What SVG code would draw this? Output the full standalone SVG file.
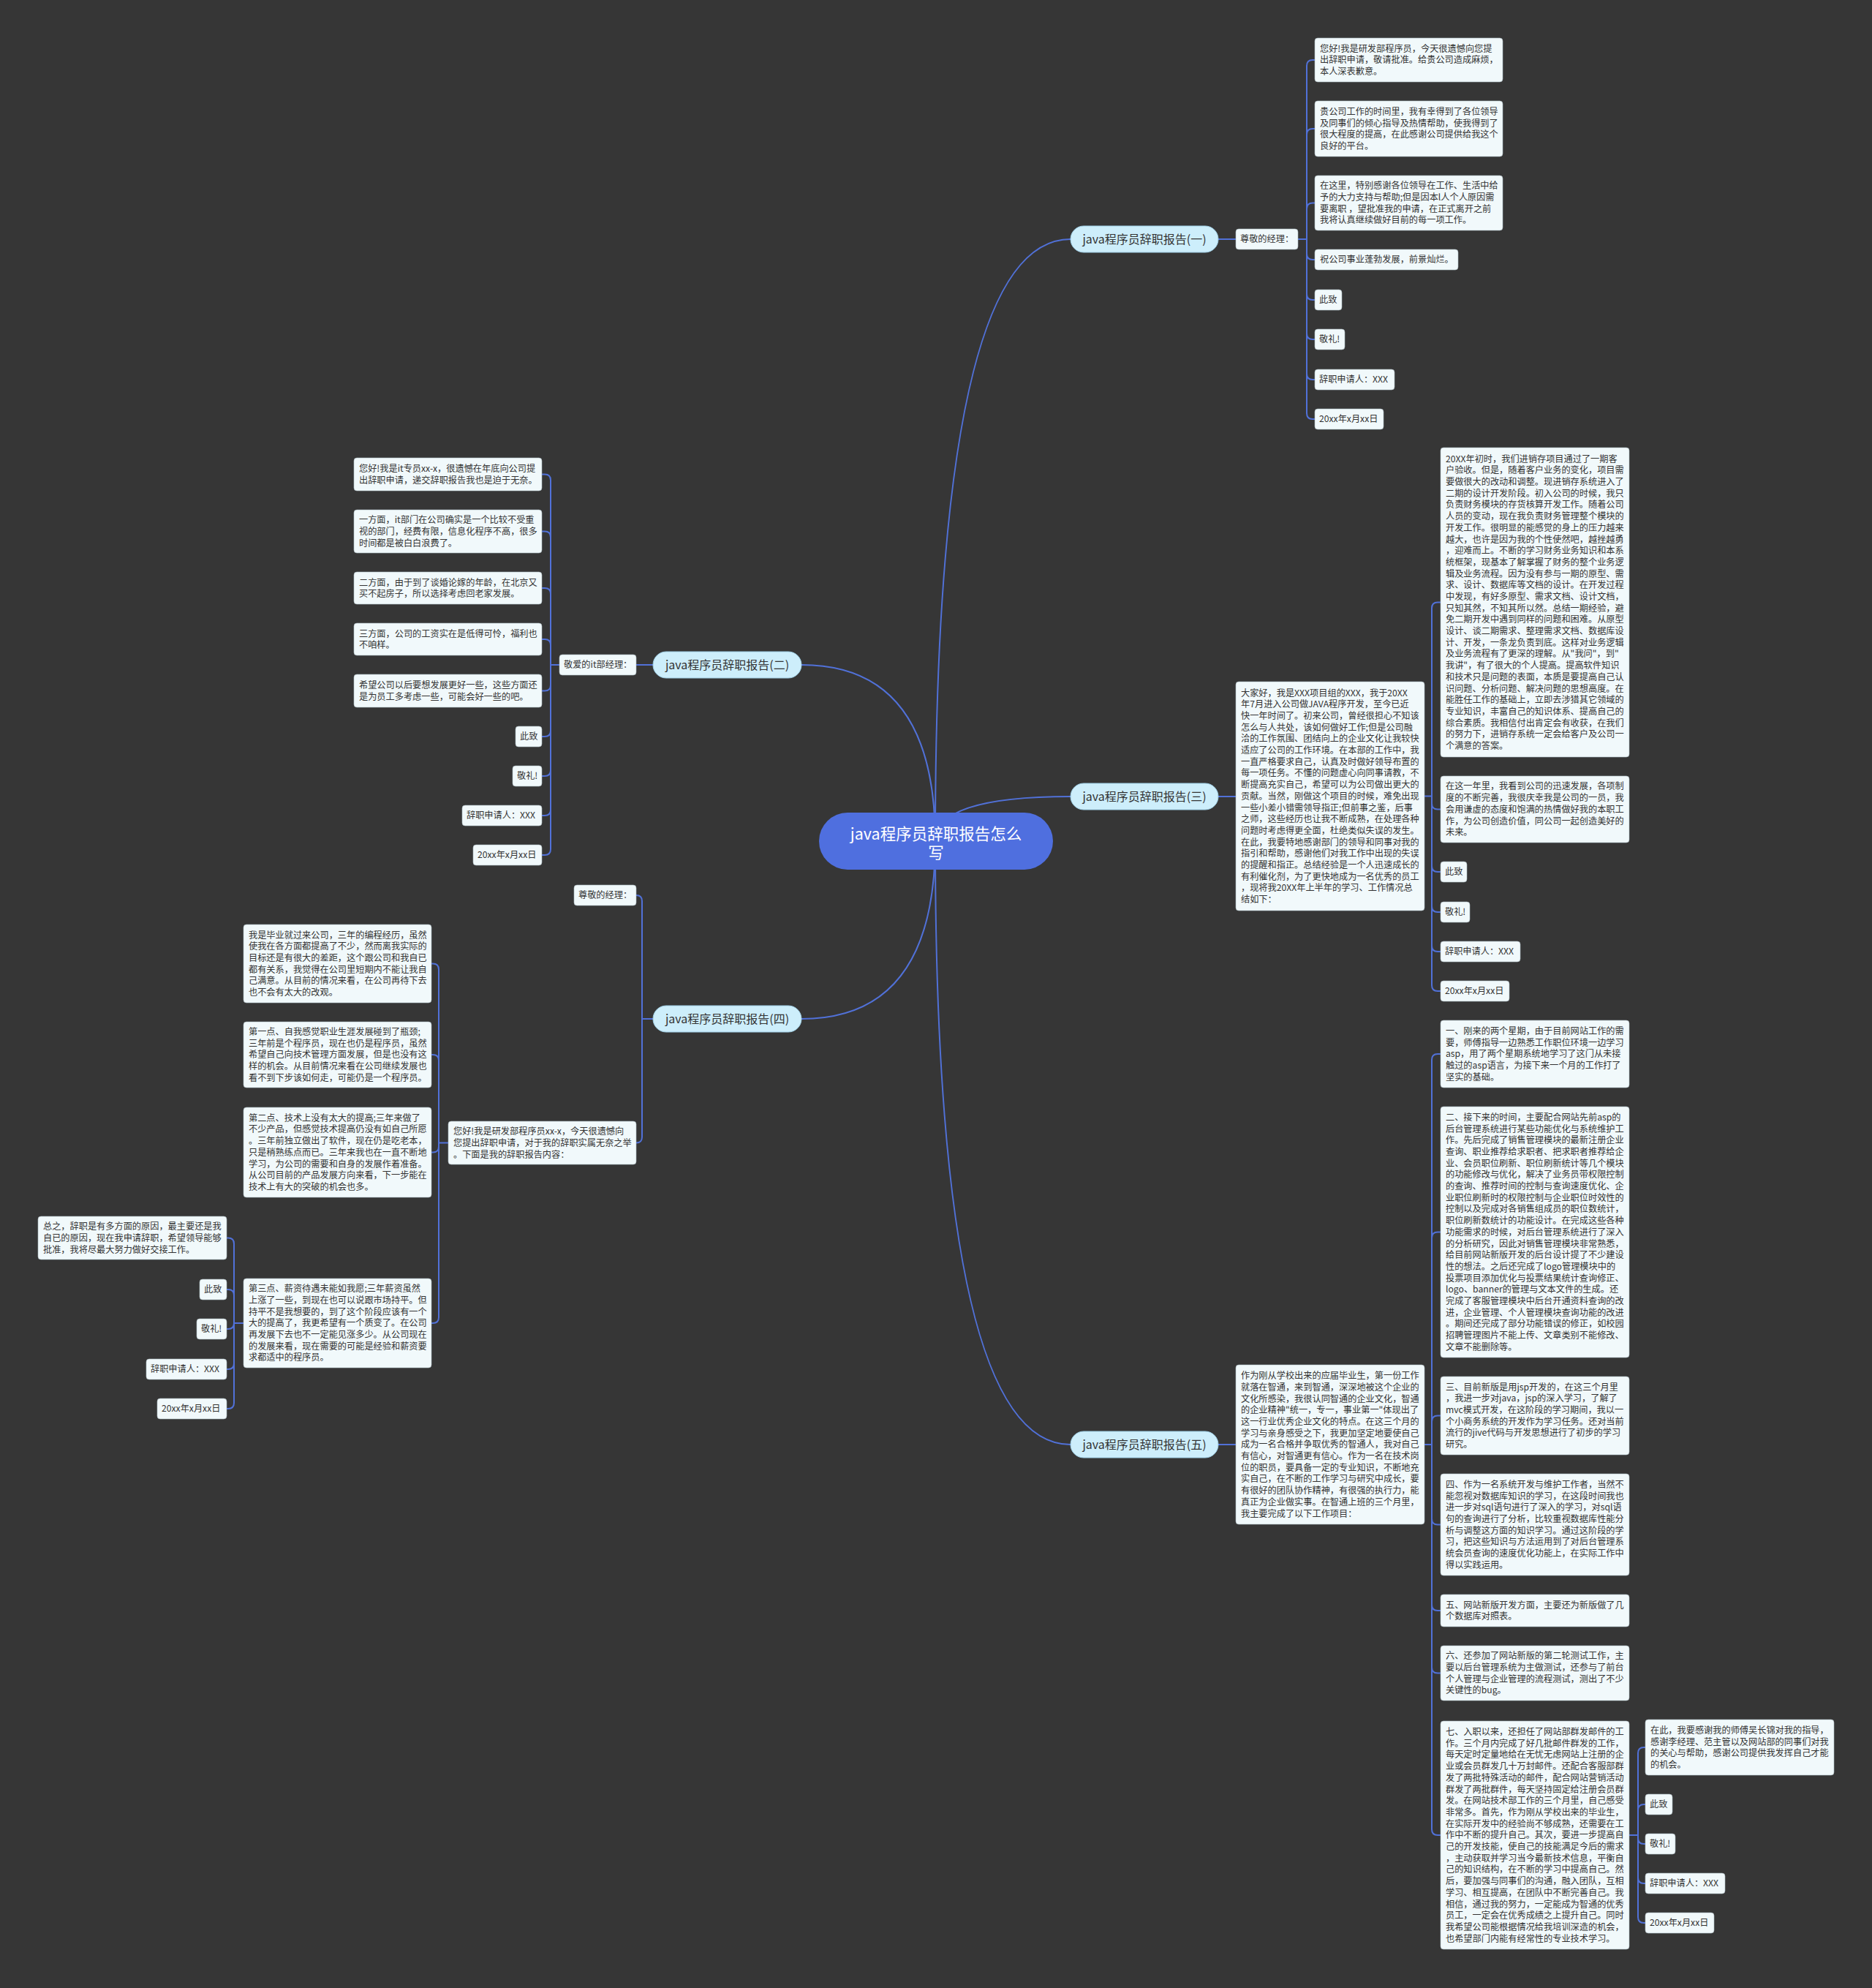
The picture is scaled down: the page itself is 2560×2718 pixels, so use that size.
<svg xmlns="http://www.w3.org/2000/svg" width="2560" height="2718" viewBox="0 0 2560 2718">
<style>
.box{fill:#f1f9fb;stroke:#a9b9c0;stroke-width:0.6}
.pill{fill:#cdeefb;stroke:#9fcfe6;stroke-width:1}
.t{font-family:"Noto Sans CJK SC","Microsoft YaHei",sans-serif;font-size:12.2px;fill:#333}
.pt{font-family:"Noto Sans CJK SC","Microsoft YaHei",sans-serif;font-size:16px;fill:#333;text-anchor:middle}
.ct{font-family:"Noto Sans CJK SC","Microsoft YaHei",sans-serif;font-size:21.5px;fill:#fff;text-anchor:middle}
.ln{fill:none;stroke:#5171d8;stroke-width:2;stroke-linecap:round}
</style>
<rect x="0" y="0" width="2560" height="2718" fill="#363636"/>

<g id="connectors" class="ln">
<path d="M1279,1150 Q1279,327 1464,327"/>
<path d="M1279,1150 Q1279,909 1096,909"/>
<path d="M1279,1150 Q1279,1089 1464,1089"/>
<path d="M1279,1150 Q1279,1393 1096,1393"/>
<path d="M1279,1150 Q1279,1975 1464,1975"/>
<!-- branch 1 -->
<path d="M1666,327 H1690"/>
<path d="M1775,327 H1787"/>
<path d="M1787,327 V90 Q1787,82 1795,82 H1798"/>
<path d="M1787,327 V184 Q1787,176 1795,176 H1798"/>
<path d="M1787,327 V285.5 Q1787,277.5 1795,277.5 H1798"/>
<path d="M1787,327 V347 Q1787,355 1795,355 H1798"/>
<path d="M1787,327 V402 Q1787,410 1795,410 H1798"/>
<path d="M1787,327 V456 Q1787,464 1795,464 H1798"/>
<path d="M1787,327 V511 Q1787,519 1795,519 H1798"/>
<path d="M1787,327 V565 Q1787,573 1795,573 H1798"/>
<!-- branch 2 -->
<path d="M893,909 H870"/>
<path d="M765,909 H753"/>
<path d="M753,909 V656.5 Q753,648.5 745,648.5 H741"/>
<path d="M753,909 V734.5 Q753,726.5 745,726.5 H741"/>
<path d="M753,909 V812 Q753,804 745,804 H741"/>
<path d="M753,909 V882 Q753,874 745,874 H741"/>
<path d="M753,909 V936.5 Q753,944.5 745,944.5 H741"/>
<path d="M753,909 V999 Q753,1007 745,1007 H741"/>
<path d="M753,909 V1053 Q753,1061 745,1061 H741"/>
<path d="M753,909 V1107 Q753,1115 745,1115 H741"/>
<path d="M753,909 V1161 Q753,1169 745,1169 H741"/>
<!-- branch 3 -->
<path d="M1666,1089 H1690"/>
<path d="M1948,1088.5 H1958"/>
<path d="M1958,1088.5 V831.5 Q1958,823.5 1966,823.5 H1970"/>
<path d="M1958,1088.5 V1098.5 Q1958,1106.5 1966,1106.5 H1970"/>
<path d="M1958,1088.5 V1184 Q1958,1192 1966,1192 H1970"/>
<path d="M1958,1088.5 V1239 Q1958,1247 1966,1247 H1970"/>
<path d="M1958,1088.5 V1293 Q1958,1301 1966,1301 H1970"/>
<path d="M1958,1088.5 V1347 Q1958,1355 1966,1355 H1970"/>
<!-- branch 4 -->
<path d="M893,1393 H878"/>
<path d="M878,1393 V1232 Q878,1224 870,1224"/>
<path d="M878,1393 V1554.5 Q878,1562.5 870,1562.5"/>
<path d="M613,1562.5 H600"/>
<path d="M600,1562.5 V1325.5 Q600,1317.5 592,1317.5 H590"/>
<path d="M600,1562.5 V1450 Q600,1442 592,1442 H590"/>
<path d="M600,1562.5 V1567.5 Q600,1575.5 592,1575.5 H590"/>
<path d="M600,1562.5 V1801 Q600,1809 592,1809 H590"/>
<path d="M333,1809 H320"/>
<path d="M320,1809 V1700.5 Q320,1692.5 312,1692.5 H310"/>
<path d="M320,1809 V1771 Q320,1763 312,1763 H310"/>
<path d="M320,1809 V1809 Q320,1817 312,1817 H310"/>
<path d="M320,1809 V1864 Q320,1872 312,1872 H310"/>
<path d="M320,1809 V1918 Q320,1926 312,1926 H310"/>
<!-- branch 5 -->
<path d="M1666,1975 H1690"/>
<path d="M1948,1975 H1958"/>
<path d="M1958,1975 V1449 Q1958,1441 1966,1441 H1970"/>
<path d="M1958,1975 V1692.5 Q1958,1684.5 1966,1684.5 H1970"/>
<path d="M1958,1975 V1943.5 Q1958,1935.5 1966,1935.5 H1970"/>
<path d="M1958,1975 V2076.5 Q1958,2084.5 1966,2084.5 H1970"/>
<path d="M1958,1975 V2194 Q1958,2202 1966,2202 H1970"/>
<path d="M1958,1975 V2279.5 Q1958,2287.5 1966,2287.5 H1970"/>
<path d="M1958,1975 V2501 Q1958,2509 1966,2509 H1970"/>
<path d="M2228,2509 H2240"/>
<path d="M2240,2509 V2397 Q2240,2389 2248,2389 H2250"/>
<path d="M2240,2509 V2475 Q2240,2467 2248,2467 H2250"/>
<path d="M2240,2509 V2513 Q2240,2521 2248,2521 H2250"/>
<path d="M2240,2509 V2567 Q2240,2575 2248,2575 H2250"/>
<path d="M2240,2509 V2621 Q2240,2629 2248,2629 H2250"/>
</g>

<g id="root">
<rect x="1120" y="1111" width="320" height="78" rx="39" fill="#4f6fdf"/>
<text class="ct" x="1280" y="1147.5"><tspan x="1280">java程序员辞职报告怎么</tspan><tspan x="1280" dy="26">写</tspan></text>
</g>

<!-- ===== Branch 1 ===== -->
<g id="b1">
<rect class="pill" x="1464" y="309" width="202" height="36" rx="18"/>
<text class="pt" x="1565" y="332.6">java程序员辞职报告(一)</text>
</g>
<g id="b1-greet"><rect class="box" x="1690" y="313" width="85" height="28" rx="4"/><text class="t" x="1696" y="331.3">尊敬的经理：</text></g>
<g id="b1-n1"><rect class="box" x="1798" y="52" width="257" height="60" rx="4"/><text class="t" y="70.6"><tspan x="1805">您好!我是研发部程序员，今天很遗憾向您提</tspan><tspan x="1805" dy="15.7">出辞职申请，敬请批准。给贵公司造成麻烦，</tspan><tspan x="1805" dy="15.7">本人深表歉意。</tspan></text></g>
<g id="b1-n2"><rect class="box" x="1798" y="138" width="257" height="76" rx="4"/><text class="t" y="156.8"><tspan x="1805">贵公司工作的时间里，我有幸得到了各位领导</tspan><tspan x="1805" dy="15.7">及同事们的倾心指导及热情帮助，使我得到了</tspan><tspan x="1805" dy="15.7">很大程度的提高，在此感谢公司提供给我这个</tspan><tspan x="1805" dy="15.7">良好的平台。</tspan></text></g>
<g id="b1-n3"><rect class="box" x="1798" y="240" width="257" height="75" rx="4"/><text class="t" y="258.3"><tspan x="1805">在这里，特别感谢各位领导在工作、生活中给</tspan><tspan x="1805" dy="15.7">予的大力支持与帮助;但是因本l人个人原因需</tspan><tspan x="1805" dy="15.7">要离职 ，望批准我的申请，在正式离开之前</tspan><tspan x="1805" dy="15.7">我将认真继续做好目前的每一项工作。</tspan></text></g>
<g id="b1-n4"><rect class="box" x="1798" y="341" width="196" height="28" rx="4"/><text class="t" x="1805" y="359.3">祝公司事业蓬勃发展，前景灿烂。</text></g>
<g id="b1-n5"><rect class="box" x="1798" y="396" width="37" height="28" rx="4"/><text class="t" x="1804" y="414.3">此致</text></g>
<g id="b1-n6"><rect class="box" x="1798" y="450" width="41" height="28" rx="4"/><text class="t" x="1804" y="468.3">敬礼!</text></g>
<g id="b1-n7"><rect class="box" x="1798" y="505" width="109" height="28" rx="4"/><text class="t" x="1804" y="523.3">辞职申请人：XXX</text></g>
<g id="b1-n8"><rect class="box" x="1798" y="559" width="94" height="28" rx="4"/><text class="t" x="1804" y="577.3">20xx年x月xx日</text></g>

<!-- ===== Branch 2 ===== -->
<g id="b2">
<rect class="pill" x="893" y="891" width="203" height="36" rx="18"/>
<text class="pt" x="994.5" y="914.6">java程序员辞职报告(二)</text>
</g>
<g id="b2-greet"><rect class="box" x="765" y="895" width="105" height="28" rx="4"/><text class="t" x="771" y="913.3">敬爱的it部经理：</text></g>
<g id="b2-n1"><rect class="box" x="484" y="626" width="257" height="45" rx="4"/><text class="t" y="645"><tspan x="491">您好!我是it专员xx-x，很遗憾在年底向公司提</tspan><tspan x="491" dy="15.7">出辞职申请，递交辞职报告我也是迫于无奈。</tspan></text></g>
<g id="b2-n2"><rect class="box" x="484" y="697" width="257" height="59" rx="4"/><text class="t" y="715.1"><tspan x="491">一方面，it部门在公司确实是一个比较不受重</tspan><tspan x="491" dy="15.7">视的部门，经费有限，信息化程序不高，很多</tspan><tspan x="491" dy="15.7">时间都是被白白浪费了。</tspan></text></g>
<g id="b2-n3"><rect class="box" x="484" y="782" width="257" height="44" rx="4"/><text class="t" y="800.5"><tspan x="491">二方面，由于到了谈婚论嫁的年龄，在北京又</tspan><tspan x="491" dy="15.7">买不起房子，所以选择考虑回老家发展。</tspan></text></g>
<g id="b2-n4"><rect class="box" x="484" y="852" width="257" height="44" rx="4"/><text class="t" y="870.5"><tspan x="491">三方面，公司的工资实在是低得可怜，福利也</tspan><tspan x="491" dy="15.7">不咱样。</tspan></text></g>
<g id="b2-n5"><rect class="box" x="484" y="922" width="257" height="45" rx="4"/><text class="t" y="941"><tspan x="491">希望公司以后要想发展更好一些，这些方面还</tspan><tspan x="491" dy="15.7">是为员工多考虑一些，可能会好一些的吧。</tspan></text></g>
<g id="b2-n6"><rect class="box" x="705" y="993" width="36" height="28" rx="4"/><text class="t" x="711" y="1011.3">此致</text></g>
<g id="b2-n7"><rect class="box" x="701" y="1047" width="40" height="28" rx="4"/><text class="t" x="707" y="1065.3">敬礼!</text></g>
<g id="b2-n8"><rect class="box" x="632" y="1101" width="109" height="28" rx="4"/><text class="t" x="638" y="1119.3">辞职申请人：XXX</text></g>
<g id="b2-n9"><rect class="box" x="647" y="1155" width="94" height="28" rx="4"/><text class="t" x="653" y="1173.3">20xx年x月xx日</text></g>

<!-- ===== Branch 3 ===== -->
<g id="b3">
<rect class="pill" x="1464" y="1071" width="202" height="36" rx="18"/>
<text class="pt" x="1565" y="1094.6">java程序员辞职报告(三)</text>
</g>
<g id="b3-intro"><rect class="box" x="1690" y="932" width="258" height="313" rx="4"/><text class="t" y="951.5"><tspan x="1697">大家好，我是XXX项目组的XXX，我于20XX</tspan><tspan x="1697" dy="15.7">年7月进入公司做JAVA程序开发，至今已近</tspan><tspan x="1697" dy="15.7">快一年时间了。初来公司，曾经很担心不知该</tspan><tspan x="1697" dy="15.7">怎么与人共处，该如何做好工作;但是公司融</tspan><tspan x="1697" dy="15.7">洽的工作氛围、团结向上的企业文化让我较快</tspan><tspan x="1697" dy="15.7">适应了公司的工作环境。在本部的工作中，我</tspan><tspan x="1697" dy="15.7">一直严格要求自己，认真及时做好领导布置的</tspan><tspan x="1697" dy="15.7">每一项任务。不懂的问题虚心向同事请教，不</tspan><tspan x="1697" dy="15.7">断提高充实自己，希望可以为公司做出更大的</tspan><tspan x="1697" dy="15.7">贡献。当然，刚做这个项目的时候，难免出现</tspan><tspan x="1697" dy="15.7">一些小差小错需领导指正;但前事之鉴，后事</tspan><tspan x="1697" dy="15.7">之师，这些经历也让我不断成熟，在处理各种</tspan><tspan x="1697" dy="15.7">问题时考虑得更全面，杜绝类似失误的发生。</tspan><tspan x="1697" dy="15.7">在此，我要特地感谢部门的领导和同事对我的</tspan><tspan x="1697" dy="15.7">指引和帮助，感谢他们对我工作中出现的失误</tspan><tspan x="1697" dy="15.7">的提醒和指正。总结经验是一个人迅速成长的</tspan><tspan x="1697" dy="15.7">有利催化剂，为了更快地成为一名优秀的员工</tspan><tspan x="1697" dy="15.7">，现将我20XX年上半年的学习、工作情况总</tspan><tspan x="1697" dy="15.7">结如下：</tspan></text></g>
<g id="b3-n1"><rect class="box" x="1970" y="612" width="258" height="423" rx="4"/><text class="t" y="631.6"><tspan x="1977">20XX年初时，我们进销存项目通过了一期客</tspan><tspan x="1977" dy="15.7">户验收。但是，随着客户业务的变化，项目需</tspan><tspan x="1977" dy="15.7">要做很大的改动和调整。现进销存系统进入了</tspan><tspan x="1977" dy="15.7">二期的设计开发阶段。初入公司的时候，我只</tspan><tspan x="1977" dy="15.7">负责财务模块的存货核算开发工作。随着公司</tspan><tspan x="1977" dy="15.7">人员的变动，现在我负责财务管理整个模块的</tspan><tspan x="1977" dy="15.7">开发工作。很明显的能感觉的身上的压力越来</tspan><tspan x="1977" dy="15.7">越大，也许是因为我的个性使然吧，越挫越勇</tspan><tspan x="1977" dy="15.7">，迎难而上。不断的学习财务业务知识和本系</tspan><tspan x="1977" dy="15.7">统框架，现基本了解掌握了财务的整个业务逻</tspan><tspan x="1977" dy="15.7">辑及业务流程。因为没有参与一期的原型、需</tspan><tspan x="1977" dy="15.7">求、设计、数据库等文档的设计。在开发过程</tspan><tspan x="1977" dy="15.7">中发现，有好多原型、需求文档、设计文档，</tspan><tspan x="1977" dy="15.7">只知其然，不知其所以然。总结一期经验，避</tspan><tspan x="1977" dy="15.7">免二期开发中遇到同样的问题和困难。从原型</tspan><tspan x="1977" dy="15.7">设计、谈二期需求、整理需求文档、数据库设</tspan><tspan x="1977" dy="15.7">计、开发，一条龙负责到底。这样对业务逻辑</tspan><tspan x="1977" dy="15.7">及业务流程有了更深的理解。从"我问"，到"</tspan><tspan x="1977" dy="15.7">我讲"，有了很大的个人提高。提高软件知识</tspan><tspan x="1977" dy="15.7">和技术只是问题的表面，本质是要提高自己认</tspan><tspan x="1977" dy="15.7">识问题、分析问题、解决问题的思想高度。在</tspan><tspan x="1977" dy="15.7">能胜任工作的基础上，立即去涉猎其它领域的</tspan><tspan x="1977" dy="15.7">专业知识，丰富自己的知识体系、提高自己的</tspan><tspan x="1977" dy="15.7">综合素质。我相信付出肯定会有收获，在我们</tspan><tspan x="1977" dy="15.7">的努力下，进销存系统一定会给客户及公司一</tspan><tspan x="1977" dy="15.7">个满意的答案。</tspan></text></g>
<g id="b3-n2"><rect class="box" x="1970" y="1061" width="258" height="91" rx="4"/><text class="t" y="1079.4"><tspan x="1977">在这一年里，我看到公司的迅速发展，各项制</tspan><tspan x="1977" dy="15.7">度的不断完善，我很庆幸我是公司的一员，我</tspan><tspan x="1977" dy="15.7">会用谦虚的态度和饱满的热情做好我的本职工</tspan><tspan x="1977" dy="15.7">作，为公司创造价值，同公司一起创造美好的</tspan><tspan x="1977" dy="15.7">未来。</tspan></text></g>
<g id="b3-n3"><rect class="box" x="1970" y="1178" width="36" height="28" rx="4"/><text class="t" x="1976" y="1196.3">此致</text></g>
<g id="b3-n4"><rect class="box" x="1970" y="1233" width="40" height="28" rx="4"/><text class="t" x="1976" y="1251.3">敬礼!</text></g>
<g id="b3-n5"><rect class="box" x="1970" y="1287" width="109" height="28" rx="4"/><text class="t" x="1976" y="1305.3">辞职申请人：XXX</text></g>
<g id="b3-n6"><rect class="box" x="1970" y="1341" width="94" height="28" rx="4"/><text class="t" x="1976" y="1359.3">20xx年x月xx日</text></g>

<!-- ===== Branch 4 ===== -->
<g id="b4">
<rect class="pill" x="893" y="1375" width="203" height="36" rx="18"/>
<text class="pt" x="994.5" y="1398.6">java程序员辞职报告(四)</text>
</g>
<g id="b4-greet"><rect class="box" x="785" y="1210" width="85" height="28" rx="4"/><text class="t" x="791" y="1228.3">尊敬的经理：</text></g>
<g id="b4-hello"><rect class="box" x="613" y="1533" width="257" height="59" rx="4"/><text class="t" y="1551.1"><tspan x="620">您好!我是研发部程序员xx-x，今天很遗憾向</tspan><tspan x="620" dy="15.7">您提出辞职申请，对于我的辞职实属无奈之举</tspan><tspan x="620" dy="15.7">。下面是我的辞职报告内容：</tspan></text></g>
<g id="b4-n1"><rect class="box" x="333" y="1264" width="257" height="107" rx="4"/><text class="t" y="1282.6"><tspan x="340">我是毕业就过来公司，三年的编程经历，虽然</tspan><tspan x="340" dy="15.7">使我在各方面都提高了不少，然而离我实际的</tspan><tspan x="340" dy="15.7">目标还是有很大的差距，这个跟公司和我自已</tspan><tspan x="340" dy="15.7">都有关系，我觉得在公司里短期内不能让我自</tspan><tspan x="340" dy="15.7">己满意。从目前的情况来看，在公司再待下去</tspan><tspan x="340" dy="15.7">也不会有太大的改观。</tspan></text></g>
<g id="b4-n2"><rect class="box" x="333" y="1397" width="257" height="90" rx="4"/><text class="t" y="1414.9"><tspan x="340">第一点、自我感觉职业生涯发展碰到了瓶颈;</tspan><tspan x="340" dy="15.7">三年前是个程序员，现在也仍是程序员，虽然</tspan><tspan x="340" dy="15.7">希望自己向技术管理方面发展，但是也没有这</tspan><tspan x="340" dy="15.7">样的机会。从目前情况来看在公司继续发展也</tspan><tspan x="340" dy="15.7">看不到下步该如何走，可能仍是一个程序员。</tspan></text></g>
<g id="b4-n3"><rect class="box" x="333" y="1514" width="257" height="123" rx="4"/><text class="t" y="1532.7"><tspan x="340">第二点、技术上没有太大的提高;三年来做了</tspan><tspan x="340" dy="15.7">不少产品，但感觉技术提高仍没有如自己所愿</tspan><tspan x="340" dy="15.7">。三年前独立做出了软件，现在仍是吃老本，</tspan><tspan x="340" dy="15.7">只是稍熟练点而已。三年来我也在一直不断地</tspan><tspan x="340" dy="15.7">学习，为公司的需要和自身的发展作着准备。</tspan><tspan x="340" dy="15.7">从公司目前的产品发展方向来看，下一步能在</tspan><tspan x="340" dy="15.7">技术上有大的突破的机会也多。</tspan></text></g>
<g id="b4-n4"><rect class="box" x="333" y="1748" width="257" height="122" rx="4"/><text class="t" y="1766.2"><tspan x="340">第三点、薪资待遇未能如我愿;三年薪资虽然</tspan><tspan x="340" dy="15.7">上涨了一些，到现在也可以说跟市场持平。但</tspan><tspan x="340" dy="15.7">持平不是我想要的，到了这个阶段应该有一个</tspan><tspan x="340" dy="15.7">大的提高了，我更希望有一个质变了。在公司</tspan><tspan x="340" dy="15.7">再发展下去也不一定能见涨多少。从公司现在</tspan><tspan x="340" dy="15.7">的发展来看，现在需要的可能是经验和薪资要</tspan><tspan x="340" dy="15.7">求都适中的程序员。</tspan></text></g>
<g id="b4-n5"><rect class="box" x="52" y="1663" width="258" height="59" rx="4"/><text class="t" y="1681.1"><tspan x="59">总之，辞职是有多方面的原因，最主要还是我</tspan><tspan x="59" dy="15.7">自已的原因，现在我申请辞职，希望领导能够</tspan><tspan x="59" dy="15.7">批准，我将尽最大努力做好交接工作。</tspan></text></g>
<g id="b4-n6"><rect class="box" x="273" y="1749" width="37" height="28" rx="4"/><text class="t" x="279" y="1767.3">此致</text></g>
<g id="b4-n7"><rect class="box" x="269" y="1803" width="41" height="28" rx="4"/><text class="t" x="275" y="1821.3">敬礼!</text></g>
<g id="b4-n8"><rect class="box" x="200" y="1858" width="110" height="28" rx="4"/><text class="t" x="206" y="1876.3">辞职申请人：XXX</text></g>
<g id="b4-n9"><rect class="box" x="215" y="1912" width="95" height="28" rx="4"/><text class="t" x="221" y="1930.3">20xx年x月xx日</text></g>

<!-- ===== Branch 5 ===== -->
<g id="b5">
<rect class="pill" x="1464" y="1957" width="202" height="36" rx="18"/>
<text class="pt" x="1565" y="1980.6">java程序员辞职报告(五)</text>
</g>
<g id="b5-intro"><rect class="box" x="1690" y="1866" width="258" height="218" rx="4"/><text class="t" y="1885.1"><tspan x="1697">作为刚从学校出来的应届毕业生，第一份工作</tspan><tspan x="1697" dy="15.7">就落在智通，来到智通，深深地被这个企业的</tspan><tspan x="1697" dy="15.7">文化所感染，我很认同智通的企业文化，智通</tspan><tspan x="1697" dy="15.7">的企业精神"统一，专一，事业第一"体现出了</tspan><tspan x="1697" dy="15.7">这一行业优秀企业文化的特点。在这三个月的</tspan><tspan x="1697" dy="15.7">学习与亲身感受之下，我更加坚定地要使自己</tspan><tspan x="1697" dy="15.7">成为一名合格并争取优秀的智通人，我对自己</tspan><tspan x="1697" dy="15.7">有信心，对智通更有信心。作为一名在技术岗</tspan><tspan x="1697" dy="15.7">位的职员，要具备一定的专业知识，不断地充</tspan><tspan x="1697" dy="15.7">实自己，在不断的工作学习与研究中成长，要</tspan><tspan x="1697" dy="15.7">有很好的团队协作精神，有很强的执行力，能</tspan><tspan x="1697" dy="15.7">真正为企业做实事。在智通上班的三个月里，</tspan><tspan x="1697" dy="15.7">我主要完成了以下工作项目：</tspan></text></g>
<g id="b5-n1"><rect class="box" x="1970" y="1395" width="258" height="92" rx="4"/><text class="t" y="1413.9"><tspan x="1977">一、刚来的两个星期，由于目前网站工作的需</tspan><tspan x="1977" dy="15.7">要，师傅指导一边熟悉工作职位环境一边学习</tspan><tspan x="1977" dy="15.7">asp，用了两个星期系统地学习了这门从未接</tspan><tspan x="1977" dy="15.7">触过的asp语言，为接下来一个月的工作打了</tspan><tspan x="1977" dy="15.7">坚实的基础。</tspan></text></g>
<g id="b5-n2"><rect class="box" x="1970" y="1513" width="258" height="343" rx="4"/><text class="t" y="1531.8"><tspan x="1977">二、接下来的时间，主要配合网站先前asp的</tspan><tspan x="1977" dy="15.7">后台管理系统进行某些功能优化与系统维护工</tspan><tspan x="1977" dy="15.7">作。先后完成了销售管理模块的最新注册企业</tspan><tspan x="1977" dy="15.7">查询、职业推荐给求职者、把求职者推荐给企</tspan><tspan x="1977" dy="15.7">业、会员职位刷新、职位刷新统计等几个模块</tspan><tspan x="1977" dy="15.7">的功能修改与优化，解决了业务员带权限控制</tspan><tspan x="1977" dy="15.7">的查询、推荐时间的控制与查询速度优化、企</tspan><tspan x="1977" dy="15.7">业职位刷新时的权限控制与企业职位时效性的</tspan><tspan x="1977" dy="15.7">控制以及完成对各销售组成员的职位数统计，</tspan><tspan x="1977" dy="15.7">职位刷新数统计的功能设计。在完成这些各种</tspan><tspan x="1977" dy="15.7">功能需求的时候，对后台管理系统进行了深入</tspan><tspan x="1977" dy="15.7">的分析研究，因此对销售管理模块非常熟悉，</tspan><tspan x="1977" dy="15.7">给目前网站新版开发的后台设计提了不少建设</tspan><tspan x="1977" dy="15.7">性的想法。之后还完成了logo管理模块中的</tspan><tspan x="1977" dy="15.7">投票项目添加优化与投票结果统计查询修正、</tspan><tspan x="1977" dy="15.7">logo、banner的管理与文本文件的生成。还</tspan><tspan x="1977" dy="15.7">完成了客服管理模块中后台开通资料查询的改</tspan><tspan x="1977" dy="15.7">进，企业管理、个人管理模块查询功能的改进</tspan><tspan x="1977" dy="15.7">。期间还完成了部分功能错误的修正，如校园</tspan><tspan x="1977" dy="15.7">招聘管理图片不能上传、文章类别不能修改、</tspan><tspan x="1977" dy="15.7">文章不能删除等。</tspan></text></g>
<g id="b5-n3"><rect class="box" x="1970" y="1882" width="258" height="107" rx="4"/><text class="t" y="1900.6"><tspan x="1977">三、目前新版是用jsp开发的，在这三个月里</tspan><tspan x="1977" dy="15.7">，我进一步对java，jsp的深入学习，了解了</tspan><tspan x="1977" dy="15.7">mvc模式开发，在这阶段的学习期间，我以一</tspan><tspan x="1977" dy="15.7">个小商务系统的开发作为学习任务。还对当前</tspan><tspan x="1977" dy="15.7">流行的jive代码与开发思想进行了初步的学习</tspan><tspan x="1977" dy="15.7">研究。</tspan></text></g>
<g id="b5-n4"><rect class="box" x="1970" y="2015" width="258" height="139" rx="4"/><text class="t" y="2033.9"><tspan x="1977">四、作为一名系统开发与维护工作者，当然不</tspan><tspan x="1977" dy="15.7">能忽视对数据库知识的学习，在这段时间我也</tspan><tspan x="1977" dy="15.7">进一步对sql语句进行了深入的学习，对sql语</tspan><tspan x="1977" dy="15.7">句的查询进行了分析，比较重视数据库性能分</tspan><tspan x="1977" dy="15.7">析与调整这方面的知识学习。通过这阶段的学</tspan><tspan x="1977" dy="15.7">习，把这些知识与方法运用到了对后台管理系</tspan><tspan x="1977" dy="15.7">统会员查询的速度优化功能上，在实际工作中</tspan><tspan x="1977" dy="15.7">得以实践运用。</tspan></text></g>
<g id="b5-n5"><rect class="box" x="1970" y="2180" width="258" height="44" rx="4"/><text class="t" y="2198.5"><tspan x="1977">五、网站新版开发方面，主要还为新版做了几</tspan><tspan x="1977" dy="15.7">个数据库对照表。</tspan></text></g>
<g id="b5-n6"><rect class="box" x="1970" y="2250" width="258" height="75" rx="4"/><text class="t" y="2268.3"><tspan x="1977">六、还参加了网站新版的第二轮测试工作，主</tspan><tspan x="1977" dy="15.7">要以后台管理系统为主做测试，还参与了前台</tspan><tspan x="1977" dy="15.7">个人管理与企业管理的流程测试，测出了不少</tspan><tspan x="1977" dy="15.7">关键性的bug。</tspan></text></g>
<g id="b5-n7"><rect class="box" x="1970" y="2353" width="258" height="312" rx="4"/><text class="t" y="2372"><tspan x="1977">七、入职以来，还担任了网站部群发邮件的工</tspan><tspan x="1977" dy="15.7">作。三个月内完成了好几批邮件群发的工作，</tspan><tspan x="1977" dy="15.7">每天定时定量地给在无忧无虑网站上注册的企</tspan><tspan x="1977" dy="15.7">业或会员群发几十万封邮件。还配合客服部群</tspan><tspan x="1977" dy="15.7">发了两批特殊活动的邮件，配合网站营销活动</tspan><tspan x="1977" dy="15.7">群发了两批群件，每天坚持固定给注册会员群</tspan><tspan x="1977" dy="15.7">发。在网站技术部工作的三个月里，自己感受</tspan><tspan x="1977" dy="15.7">非常多。首先，作为刚从学校出来的毕业生，</tspan><tspan x="1977" dy="15.7">在实际开发中的经验尚不够成熟，还需要在工</tspan><tspan x="1977" dy="15.7">作中不断的提升自己。其次，要进一步提高自</tspan><tspan x="1977" dy="15.7">己的开发技能，使自己的技能满足今后的需求</tspan><tspan x="1977" dy="15.7">，主动获取并学习当今最新技术信息，平衡自</tspan><tspan x="1977" dy="15.7">己的知识结构，在不断的学习中提高自己。然</tspan><tspan x="1977" dy="15.7">后，要加强与同事们的沟通，融入团队，互相</tspan><tspan x="1977" dy="15.7">学习、相互提高，在团队中不断完善自己。我</tspan><tspan x="1977" dy="15.7">相信，通过我的努力，一定能成为智通的优秀</tspan><tspan x="1977" dy="15.7">员工，一定会在优秀成绩之上提升自己。同时</tspan><tspan x="1977" dy="15.7">我希望公司能根据情况给我培训深造的机会，</tspan><tspan x="1977" dy="15.7">也希望部门内能有经常性的专业技术学习。</tspan></text></g>
<g id="b5-n8"><rect class="box" x="2250" y="2351" width="258" height="76" rx="4"/><text class="t" y="2369.8"><tspan x="2257">在此，我要感谢我的师傅吴长锦对我的指导，</tspan><tspan x="2257" dy="15.7">感谢李经理、范主管以及网站部的同事们对我</tspan><tspan x="2257" dy="15.7">的关心与帮助，感谢公司提供我发挥自己才能</tspan><tspan x="2257" dy="15.7">的机会。</tspan></text></g>
<g id="b5-n9"><rect class="box" x="2250" y="2453" width="37" height="28" rx="4"/><text class="t" x="2256" y="2471.3">此致</text></g>
<g id="b5-n10"><rect class="box" x="2250" y="2507" width="41" height="28" rx="4"/><text class="t" x="2256" y="2525.3">敬礼!</text></g>
<g id="b5-n11"><rect class="box" x="2250" y="2561" width="109" height="28" rx="4"/><text class="t" x="2256" y="2579.3">辞职申请人：XXX</text></g>
<g id="b5-n12"><rect class="box" x="2250" y="2615" width="94" height="28" rx="4"/><text class="t" x="2256" y="2633.3">20xx年x月xx日</text></g>
</svg>
